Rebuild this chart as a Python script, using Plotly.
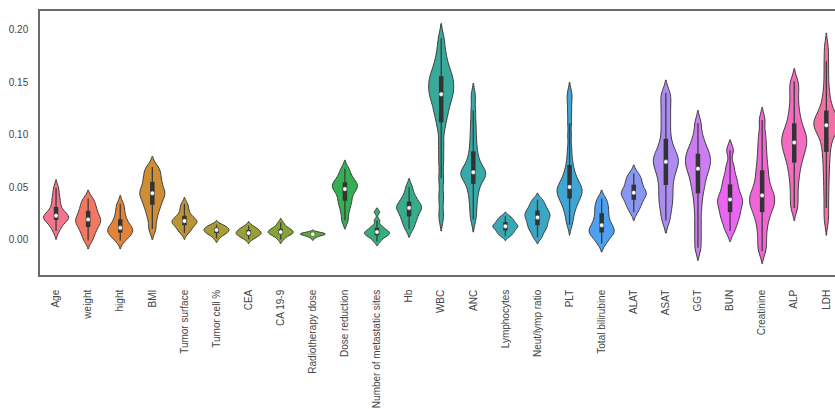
import math
import colorsys
import numpy as np
import plotly.graph_objects as go

# ---------------- data ----------------
categories = ["Age", "weight", "hight", "BMI", "Tumor surface", "Tumor cell %", "CEA",
              "CA 19-9", "Radiotherapy dose", "Dose reduction", "Number of metastatic sites",
              "Hb", "WBC", "ANC", "Lymphocytes", "Neut/lymp ratio", "PLT", "Total bilirubine",
              "ALAT", "ASAT", "GGT", "BUN", "Creatinine", "ALP", "LDH"]

age = [0.008, 0.013, 0.016, 0.018, 0.020, 0.021, 0.022, 0.023, 0.025, 0.028, 0.032, 0.037, 0.042, 0.049]
weight = [-0.001, 0.004, 0.008, 0.011, 0.014, 0.016, 0.018, 0.020, 0.022, 0.025, 0.028, 0.031, 0.035, 0.039]
hight = [-0.001, 0.002, 0.004, 0.006, 0.008, 0.009, 0.010, 0.012, 0.014, 0.017, 0.020, 0.024, 0.029, 0.034]
bmi = [0.010, 0.020, 0.027, 0.032, 0.036, 0.040, 0.043, 0.045, 0.048, 0.052, 0.056, 0.060, 0.065, 0.069]
tumor_surface = [0.006, 0.009, 0.011, 0.013, 0.015, 0.016, 0.017, 0.018, 0.019, 0.021, 0.023, 0.026, 0.030, 0.034]
tumor_cell = [0.001, 0.004, 0.005, 0.006, 0.007, 0.008, 0.009, 0.009, 0.010, 0.011, 0.012, 0.013, 0.014]
cea = [0.000, 0.002, 0.003, 0.004, 0.005, 0.006, 0.006, 0.007, 0.008, 0.009, 0.010, 0.011, 0.013]
ca199 = [0.000, 0.003, 0.004, 0.005, 0.006, 0.007, 0.007, 0.008, 0.009, 0.010, 0.011, 0.013, 0.016]
radiotherapy = [0.0015, 0.0030, 0.0038, 0.0043, 0.0047, 0.0050, 0.0052, 0.0055, 0.0058, 0.0062, 0.0066]
dose_reduction = [0.018, 0.026, 0.032, 0.036, 0.040, 0.044, 0.047, 0.049, 0.051, 0.053, 0.055, 0.058, 0.062, 0.0675]
metastatic_sites = [-0.002, 0.001, 0.003, 0.004, 0.005, 0.006, 0.007, 0.008, 0.009, 0.011, 0.013, 0.018, 0.026]
hb = [0.010, 0.015, 0.019, 0.022, 0.025, 0.028, 0.030, 0.031, 0.033, 0.036, 0.039, 0.043, 0.050]
wbc = [0.022, 0.040, 0.058, 0.075, 0.090, 0.105, 0.114, 0.120, 0.125, 0.130, 0.134, 0.137, 0.140,
       0.143, 0.146, 0.149, 0.152, 0.155, 0.158, 0.162, 0.167, 0.173, 0.181, 0.192]
anc = [0.019, 0.028, 0.036, 0.043, 0.048, 0.053, 0.057, 0.060, 0.061, 0.063, 0.064, 0.066, 0.069,
       0.073, 0.078, 0.084, 0.092, 0.101, 0.111, 0.123, 0.137]
lymphocytes = [0.003, 0.005, 0.007, 0.008, 0.010, 0.011, 0.012, 0.013, 0.014, 0.015, 0.017, 0.018, 0.020, 0.022]
neut_lymp = [0.002, 0.007, 0.010, 0.013, 0.015, 0.018, 0.020, 0.022, 0.024, 0.026, 0.028, 0.031, 0.034, 0.038]
plt_vals = [0.014, 0.020, 0.025, 0.029, 0.032, 0.035, 0.037, 0.039, 0.041, 0.043, 0.044, 0.046, 0.047,
            0.049, 0.050, 0.052, 0.054, 0.056, 0.059, 0.062, 0.066, 0.071, 0.078, 0.087, 0.099,
            0.111, 0.122, 0.132, 0.140]
bilirubine = [-0.004, 0.001, 0.004, 0.006, 0.008, 0.010, 0.012, 0.015, 0.018, 0.022, 0.026, 0.030, 0.034, 0.039]
alat = [0.026, 0.031, 0.034, 0.037, 0.040, 0.042, 0.044, 0.045, 0.047, 0.050, 0.053, 0.056, 0.059, 0.063]
asat = [0.018, 0.027, 0.034, 0.040, 0.046, 0.052, 0.058, 0.063, 0.067, 0.071, 0.074, 0.077, 0.080,
        0.084, 0.089, 0.096, 0.105, 0.114, 0.123, 0.132, 0.140]
ggt = [-0.008, 0.004, 0.016, 0.028, 0.038, 0.046, 0.052, 0.057, 0.062, 0.066, 0.069, 0.072, 0.075,
       0.078, 0.081, 0.084, 0.088, 0.093, 0.100, 0.111]
bun = [0.008, 0.015, 0.020, 0.024, 0.028, 0.032, 0.035, 0.038, 0.041, 0.045, 0.050, 0.055, 0.061, 0.070, 0.085]
creatinine = [-0.011, -0.002, 0.007, 0.015, 0.021, 0.026, 0.030, 0.033, 0.036, 0.039, 0.042, 0.045,
              0.049, 0.054, 0.060, 0.066, 0.073, 0.081, 0.090, 0.100, 0.114]
alp = [0.030, 0.040, 0.050, 0.059, 0.066, 0.072, 0.077, 0.081, 0.085, 0.088, 0.091, 0.094, 0.097,
       0.100, 0.103, 0.107, 0.112, 0.118, 0.125, 0.134, 0.143, 0.151]
ldh = [0.018, 0.030, 0.042, 0.053, 0.063, 0.072, 0.080, 0.087, 0.093, 0.098, 0.102, 0.104, 0.106,
       0.109, 0.110, 0.112, 0.113, 0.115, 0.118, 0.121, 0.125, 0.130, 0.137, 0.146, 0.158, 0.170, 0.183]

# KDE smoothing per violin
kde_bandwidth = [0.004, 0.004, 0.004, 0.005, 0.003, 0.002, 0.002, 0.002, 0.0012, 0.004,
                 0.002, 0.004, 0.007, 0.006, 0.002, 0.003, 0.005, 0.004, 0.004, 0.006,
                 0.006, 0.005, 0.006, 0.006, 0.007]

y_tick_values = [0.00, 0.05, 0.10, 0.15, 0.20]

series = [age, weight, hight, bmi, tumor_surface, tumor_cell, cea, ca199, radiotherapy,
          dose_reduction, metastatic_sites, hb, wbc, anc, lymphocytes, neut_lymp, plt_vals,
          bilirubine, alat, asat, ggt, bun, creatinine, alp, ldh]

# ---------------- husl palette (seaborn style) ----------------
_M = [[3.240969941904521, -1.537383177570093, -0.498610760293],
      [-0.96924363628087, 1.87596750150772, 0.041555057407175],
      [0.055630079696993, -0.20397695888897, 1.056971514242878]]
_REF_U = 0.19783000664283
_REF_V = 0.46831999493879
_KAPPA = 903.2962962
_EPS = 0.0088564516


def _bounds(L):
    sub1 = (L + 16) ** 3 / 1560896
    sub2 = sub1 if sub1 > _EPS else L / _KAPPA
    out = []
    for m1, m2, m3 in _M:
        for t in (0, 1):
            top1 = (284517 * m1 - 94839 * m3) * sub2
            top2 = (838422 * m3 + 769860 * m2 + 731718 * m1) * L * sub2 - 769860 * t * L
            bottom = (632260 * m3 - 126452 * m2) * sub2 + 126452 * t
            out.append((top1 / bottom, top2 / bottom))
    return out


def _max_chroma(L, H):
    hrad = math.radians(H)
    best = float("inf")
    for slope, inter in _bounds(L):
        denom = math.sin(hrad) - slope * math.cos(hrad)
        if denom == 0:
            continue
        length = inter / denom
        if length >= 0:
            best = min(best, length)
    return best


def husl_to_rgb(H, S, L):
    C = _max_chroma(L, H) / 100 * S
    hrad = math.radians(H)
    U, V = C * math.cos(hrad), C * math.sin(hrad)
    Y = ((L + 16) / 116) ** 3 if L > 8 else L / _KAPPA
    var_u = U / (13 * L) + _REF_U
    var_v = V / (13 * L) + _REF_V
    X = 0 - (9 * Y * var_u) / ((var_u - 4) * var_v - var_u * var_v)
    Z = (9 * Y - 15 * var_v * Y - var_v * X) / (3 * var_v)
    rgb = []
    for row in _M:
        c = row[0] * X + row[1] * Y + row[2] * Z
        c = 12.92 * c if c <= 0.0031308 else 1.055 * c ** (1 / 2.4) - 0.055
        rgb.append(min(max(c, 0.0), 1.0))
    return rgb


def husl_palette(n, h=0.01, s=0.9, l=0.65, saturation=1.0):
    hues = (np.linspace(0, 1, n + 1)[:-1] + h) % 1 * 359
    cols = []
    for hu in hues:
        r, g, b = husl_to_rgb(hu, s * 99, l * 99)
        hh, ll, ss = colorsys.rgb_to_hls(r, g, b)
        r, g, b = colorsys.hls_to_rgb(hh, ll, ss * saturation)
        cols.append("#%02x%02x%02x" % (round(r * 255), round(g * 255), round(b * 255)))
    return cols


colors = husl_palette(len(categories), saturation=0.95)

EDGE = "#3c3c3c"
fig = go.Figure()

for cat, vals, bw, col in zip(categories, series, kde_bandwidth, colors):
    fig.add_trace(go.Violin(
        x=[cat] * len(vals), y=vals, name=cat,
        bandwidth=bw, spanmode="soft", scalemode="width", width=0.78,
        fillcolor=col, line=dict(color=EDGE, width=1), opacity=1,
        points=False, box_visible=False, meanline_visible=False,
        showlegend=False, hoverinfo="skip",
    ))

# inner boxes (seaborn style): whisker line, thick IQR bar, white median dot
for cat, vals in zip(categories, series):
    arr = np.asarray(vals)
    q1, med, q3 = np.percentile(arr, [25, 50, 75])
    lim = 1.5 * (q3 - q1)
    lo = arr[arr >= q1 - lim].min()
    hi = arr[arr <= q3 + lim].max()
    fig.add_trace(go.Scatter(x=[cat, cat], y=[lo, hi], mode="lines",
                             line=dict(color=EDGE, width=1.3), showlegend=False, hoverinfo="skip"))
    fig.add_trace(go.Scatter(x=[cat, cat], y=[q1, q3], mode="lines",
                             line=dict(color="#333333", width=4.5), showlegend=False, hoverinfo="skip"))
    fig.add_trace(go.Scatter(x=[cat], y=[med], mode="markers",
                             marker=dict(color="white", size=4.5, line=dict(color=EDGE, width=0.6)),
                             showlegend=False, hoverinfo="skip"))

fig.update_layout(
    width=835, height=409,
    margin=dict(l=40, r=0, t=11, b=134),
    paper_bgcolor="white", plot_bgcolor="white",
    violinmode="overlay",
    font=dict(family="Liberation Sans, Arial, sans-serif", color="#444444"),
    showlegend=False,
)
fig.update_xaxes(
    type="category", categoryorder="array", categoryarray=categories,
    range=[-0.5, 24.27], tickangle=-90, tickfont=dict(size=10, color="#444444"),
    showline=True, linecolor="#6a6a6a", linewidth=1.5, mirror=True,
    showgrid=False, zeroline=False, ticks="", ticklabelstandoff=9,
)
fig.update_yaxes(
    range=[-0.034, 0.218], tickvals=y_tick_values, tickformat=".2f",
    tickfont=dict(size=10, color="#444444"),
    showline=True, linecolor="#6a6a6a", linewidth=1.5, mirror=False,
    showgrid=False, zeroline=False, ticks="", ticklabelstandoff=8,
)

fig.write_html("out.html")
